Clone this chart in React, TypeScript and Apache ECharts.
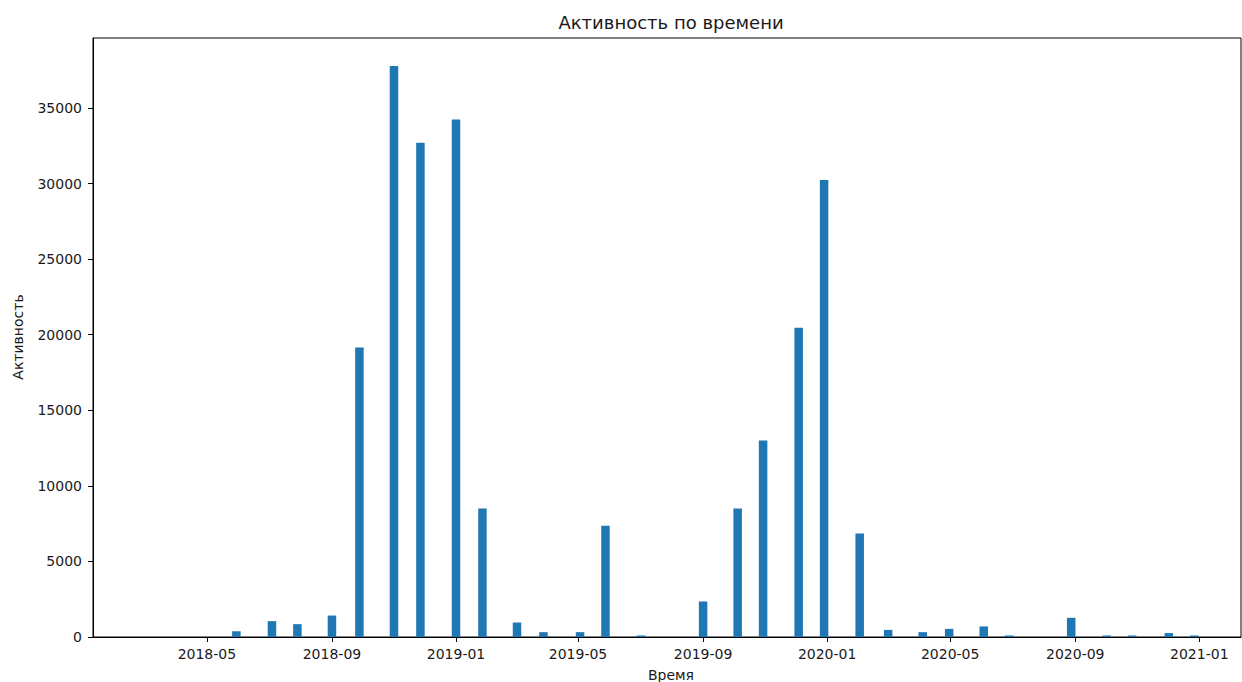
import React, { useEffect, useRef } from "react";
import * as echarts from "echarts";

const barDates = [
  "2018-05-30", "2018-07-04", "2018-07-29", "2018-09-01", "2018-09-28",
  "2018-11-01", "2018-11-27", "2019-01-01", "2019-01-27", "2019-03-02",
  "2019-03-28", "2019-05-03", "2019-05-28", "2019-07-02", "2019-09-01",
  "2019-10-05", "2019-10-30", "2019-12-04", "2019-12-29", "2020-02-02",
  "2020-03-01", "2020-04-04", "2020-04-30", "2020-06-03", "2020-06-28",
  "2020-08-28", "2020-10-02", "2020-10-27", "2020-12-02", "2020-12-27",
];
const barValues = [
  380, 1050, 850, 1420, 19150,
  37780, 32700, 34230, 8500, 960,
  320, 320, 7360, 100, 2350,
  8500, 13000, 20460, 30240, 6850,
  470, 320, 540, 700, 100,
  1270, 100, 100, 260, 100,
];
const xTickDates = [
  "2018-05-01", "2018-09-01", "2019-01-01", "2019-05-01", "2019-09-01",
  "2020-01-01", "2020-05-01", "2020-09-01", "2021-01-01",
];
const yTicks = [0, 5000, 10000, 15000, 20000, 25000, 30000, 35000];
const xMinDate = "2018-01-09";
const xMaxDate = "2021-02-11";
const yMax = 39630;

const titleText = "Активность по времени";
const xName = "Время";
const yName = "Активность";

const ts = (s: string) => {
  const [y, m, d] = s.split("-").map(Number);
  return Date.UTC(y, m - 1, d);
};

const FONT = "DejaVu Sans";
const TEXT = "#1a1a1a";

export default function App() {
  const ref = useRef<HTMLDivElement>(null);
  useEffect(() => {
    document.body.style.margin = "0";
    if (!ref.current) return;
    const chart = echarts.init(ref.current, null, { renderer: "svg" });
    const fmtX = (v: number) => {
      const d = new Date(v);
      return `${d.getUTCFullYear()}-${String(d.getUTCMonth() + 1).padStart(2, "0")}`;
    };
    chart.setOption({
      animation: false,
      backgroundColor: "#ffffff",
      grid: {
        left: 93,
        right: 1,
        top: 38,
        bottom: 45,
        show: true,
        borderColor: "#000",
        borderWidth: 1,
        backgroundColor: "transparent",
      },
      xAxis: {
        type: "value",
        min: ts(xMinDate),
        max: ts(xMaxDate),
        axisLine: { show: true, onZero: false, lineStyle: { color: "#000", width: 1 } },
        axisTick: {
          show: true,
          length: 5,
          lineStyle: { color: "#000" },
          customValues: xTickDates.map(ts),
        },
        axisLabel: {
          customValues: xTickDates.map(ts),
          formatter: fmtX,
          fontFamily: FONT,
          fontSize: 14,
          color: TEXT,
          margin: 10,
          hideOverlap: false,
        },
        splitLine: { show: false },
      },
      yAxis: {
        type: "value",
        min: 0,
        max: yMax,
        axisLine: { show: true, onZero: false, lineStyle: { color: "#000", width: 1 } },
        axisTick: {
          show: true,
          length: 5,
          lineStyle: { color: "#000" },
          customValues: yTicks,
        },
        axisLabel: {
          customValues: yTicks,
          formatter: (v: number) => String(v),
          fontFamily: FONT,
          fontSize: 14,
          color: TEXT,
          margin: 11,
        },
        splitLine: { show: false },
      },
      series: [
        {
          type: "bar",
          data: barDates.map((d, i) => [ts(d), barValues[i]]),
          barWidth: 8.5,
          itemStyle: { color: "#1f77b4" },
        },
      ],
      graphic: [
        {
          type: "text",
          x: 671,
          y: 22,
          style: {
            text: titleText,
            fontFamily: FONT,
            fontSize: 18,
            fill: TEXT,
            textAlign: "center",
            textVerticalAlign: "middle",
          },
        },
        {
          type: "text",
          x: 671,
          y: 675,
          style: {
            text: xName,
            fontFamily: FONT,
            fontSize: 14,
            fill: TEXT,
            textAlign: "center",
            textVerticalAlign: "middle",
          },
        },
        {
          type: "text",
          x: 18,
          y: 337,
          rotation: Math.PI / 2,
          style: {
            text: yName,
            fontFamily: FONT,
            fontSize: 14,
            fill: TEXT,
            textAlign: "center",
            textVerticalAlign: "middle",
          },
        },
      ],
    });
    return () => chart.dispose();
  }, []);
  return <div ref={ref} style={{ width: 1242, height: 682 }} />;
}
